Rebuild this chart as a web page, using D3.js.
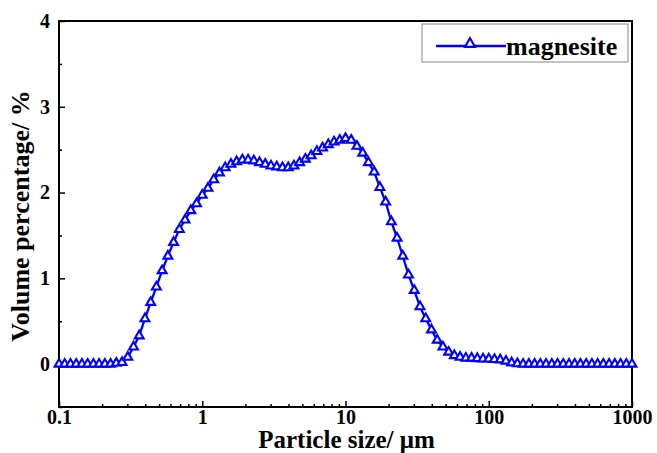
<!DOCTYPE html>
<html>
<head>
<meta charset="utf-8">
<script src="https://cdn.jsdelivr.net/npm/d3@7"></script>
<style>
  body { margin: 0; background: #fff; }
  svg { display: block; }
  text { font-family: "Liberation Serif", "Times New Roman", serif; font-weight: bold; }
</style>
</head>
<body>
<svg id="dessin" width="657" height="453"></svg>
<script>
// particle size (um), log spaced bins
let tailles = [
  0.1, 0.10965, 0.12023, 0.13183, 0.14454, 0.15849, 0.17378, 0.19055, 0.20893, 0.22909,
  0.25119, 0.27542, 0.302, 0.33113, 0.36308, 0.39811, 0.43652, 0.47863, 0.52481, 0.57544,
  0.63096, 0.69183, 0.75858, 0.83176, 0.91201,
  1, 1.0965, 1.2023, 1.3183, 1.4454, 1.5849, 1.7378, 1.9055, 2.0893, 2.2909,
  2.5119, 2.7542, 3.02, 3.3113, 3.6308, 3.9811, 4.3652, 4.7863, 5.2481, 5.7544,
  6.3096, 6.9183, 7.5858, 8.3176, 9.1201,
  10, 10.965, 12.023, 13.183, 14.454, 15.849, 17.378, 19.055, 20.893, 22.909,
  25.119, 27.542, 30.2, 33.113, 36.308, 39.811, 43.652, 47.863, 52.481, 57.544,
  63.096, 69.183, 75.858, 83.176, 91.201,
  100, 109.65, 120.23, 131.83, 144.54, 158.49, 173.78, 190.55, 208.93, 229.09,
  251.19, 275.42, 302, 331.13, 363.08, 398.11, 436.52, 478.63, 524.81, 575.44,
  630.96, 691.83, 758.58, 831.76, 912.01, 1000
];

// volume percentage (%)
let volumes = [
  0, 0, 0, 0, 0, 0, 0, 0, 0, 0,
  0.01, 0.02, 0.08, 0.2, 0.33, 0.53, 0.72, 0.9, 1.09, 1.26,
  1.42, 1.57, 1.68, 1.79, 1.87,
  1.97, 2.05, 2.15, 2.23, 2.29, 2.33, 2.36, 2.38, 2.38, 2.37,
  2.35, 2.33, 2.31, 2.3, 2.29, 2.29, 2.31, 2.35, 2.39, 2.43,
  2.48, 2.52, 2.56, 2.59, 2.61,
  2.63, 2.61, 2.54, 2.46, 2.35, 2.24, 2.06, 1.89, 1.66, 1.47,
  1.26, 1.04, 0.86, 0.67, 0.53, 0.4, 0.28, 0.2, 0.14, 0.1,
  0.08, 0.07, 0.07, 0.065, 0.06,
  0.06, 0.055, 0.05, 0.035, 0.015, 0.005, 0, 0, 0, 0,
  0, 0, 0, 0, 0, 0, 0, 0, 0, 0,
  0, 0, 0, 0, 0, 0
];

let ticksX = [0.1, 1, 10, 100, 1000];
let ticksY = [0, 1, 2, 3, 4];
let minorY = [-0.5, 0.5, 1.5, 2.5, 3.5];
let nomSerie = "magnesite";

let data = tailles.map((t, i) => ({x: t, y: volumes[i]}));

const gauche = 59, droite = 632, haut = 21, bas = 407;
const bleu = "#0000ff";

const x = d3.scaleLog().domain([0.1, 1000]).range([gauche, droite]);
const y = d3.scaleLinear().domain([-0.5, 4]).range([bas, haut]);

let minorX = [];
[0.1, 1, 10, 100].forEach(d => { for (let k = 2; k <= 9; k++) minorX.push(d * k); });

const svg = d3.select("#dessin");

// minor ticks
svg.append("g")
    .attr("transform", `translate(0,${bas})`)
    .call(d3.axisBottom(x).tickValues(minorX).tickSize(-3).tickFormat(""))
    .call(g => g.select(".domain").remove());
svg.append("g")
    .attr("transform", `translate(${gauche},0)`)
    .call(d3.axisLeft(y).tickValues(minorY).tickSize(-3).tickFormat(""))
    .call(g => g.select(".domain").remove());

// major ticks + labels
svg.append("g")
    .attr("transform", `translate(0,${bas})`)
    .call(d3.axisBottom(x).tickValues(ticksX).tickSize(-6).tickPadding(3).tickFormat(d => d))
    .call(g => g.select(".domain").remove())
    .selectAll("text")
    .style("font-size", "20px")
    .attr("fill", "#000");
svg.append("g")
    .attr("transform", `translate(${gauche},0)`)
    .call(d3.axisLeft(y).tickValues(ticksY).tickSize(-6).tickPadding(9).tickFormat(d3.format("d")))
    .call(g => g.select(".domain").remove())
    .selectAll("text")
    .style("font-size", "20px")
    .attr("fill", "#000");

svg.selectAll(".tick line").attr("stroke", "#000").attr("stroke-width", 1.5);

// frame
svg.append("rect")
    .attr("x", gauche).attr("y", haut)
    .attr("width", droite - gauche).attr("height", bas - haut)
    .attr("fill", "none").attr("stroke", "#000").attr("stroke-width", 2);

// axis titles
svg.append("text")
    .attr("x", (gauche + droite) / 2 + 1).attr("y", 448)
    .attr("text-anchor", "middle")
    .style("font-size", "25px")
    .text("Particle size/ μm");
svg.append("text")
    .attr("transform", "translate(29,216) rotate(-90)")
    .attr("text-anchor", "middle")
    .style("font-size", "26px")
    .text("Volume percentage/ %");

// curve
const ligne = d3.line().x(d => x(d.x)).y(d => y(d.y));
svg.append("path")
    .datum(data)
    .attr("d", ligne)
    .attr("fill", "none")
    .attr("stroke", bleu)
    .attr("stroke-width", 2.3);

const triangle = d3.symbol().type(d3.symbolTriangle).size(34);
svg.append("g")
    .selectAll("path")
    .data(data)
    .enter()
    .append("path")
    .attr("d", triangle)
    .attr("transform", d => `translate(${x(d.x)},${y(d.y)})`)
    .attr("fill", "#fff")
    .attr("stroke", bleu)
    .attr("stroke-width", 2.1);

// legend
const leg = svg.append("g");
leg.append("rect")
    .attr("x", 422).attr("y", 24).attr("width", 206).attr("height", 38)
    .attr("fill", "#fff").attr("stroke", "#888").attr("stroke-width", 1);
leg.append("line")
    .attr("x1", 436).attr("x2", 506).attr("y1", 46).attr("y2", 46)
    .attr("stroke", bleu).attr("stroke-width", 2.3);
leg.append("path")
    .attr("d", d3.symbol().type(d3.symbolTriangle).size(44)())
    .attr("transform", "translate(470,44)")
    .attr("fill", "#fff").attr("stroke", bleu).attr("stroke-width", 2.1);
leg.append("text")
    .attr("x", 506).attr("y", 55)
    .style("font-size", "26px")
    .text(nomSerie);
</script>
</body>
</html>
